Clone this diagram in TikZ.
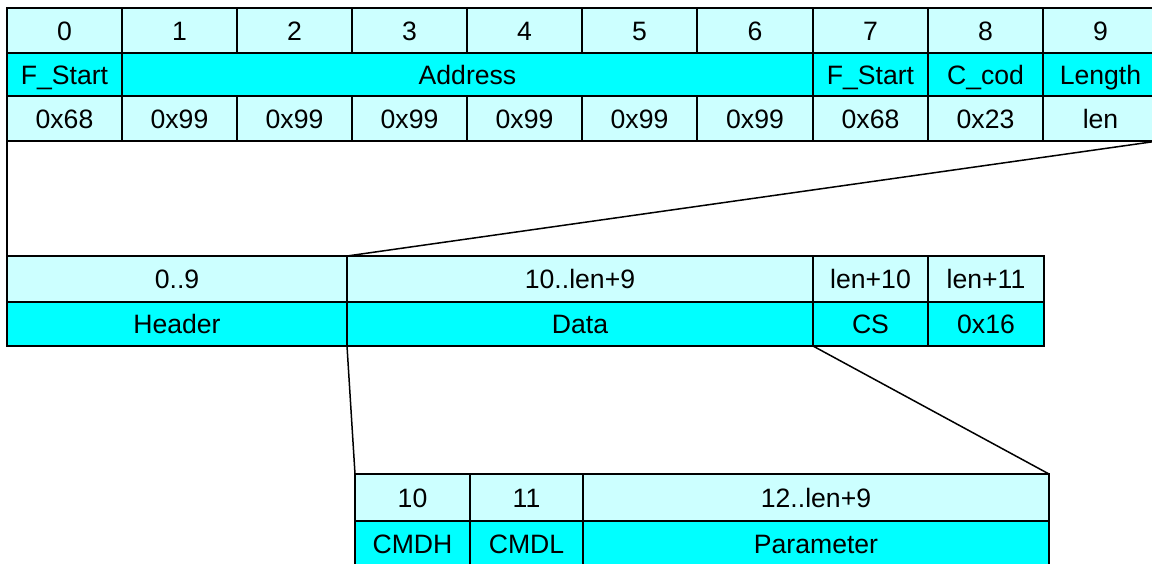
\documentclass[tikz,border=0pt]{standalone}
\usepackage{fontspec}
\setmainfont{Liberation Sans}
\definecolor{lightc}{HTML}{CCFFFF}
\definecolor{darkc}{HTML}{00FFFF}
\tikzset{
  cellst/.style={draw=black, line width=0.9pt, rectangle, inner sep=0pt, outer sep=0pt,
    font=\fontsize{13.3}{15}\selectfont, text=black, text height=9.5pt, text depth=0pt},
  linkst/.style={draw=black, line width=0.75pt}
}
\newcommand\cellbox[7]{\node[cellst, fill=#6, minimum width={(#4-#2)*0.5pt}, minimum height={(#5-#3)*0.5pt}] (#1) at ({(#2+#4)/2},{(#3+#5)/2}) {#7};}
\begin{document}
\begin{tikzpicture}[x=0.5pt,y=-0.5pt]
\useasboundingbox (0,0) rectangle (1152,563);
\clip (0,0) rectangle (1152,563);
\fill[white] (0,0) rectangle (1152,563);
% top table, row 1
\cellbox{a0}{7}{8}{122}{53}{lightc}{0}
\cellbox{a1}{122}{8}{237}{53}{lightc}{1}
\cellbox{a2}{237}{8}{352}{53}{lightc}{2}
\cellbox{a3}{352}{8}{467}{53}{lightc}{3}
\cellbox{a4}{467}{8}{582}{53}{lightc}{4}
\cellbox{a5}{582}{8}{697}{53}{lightc}{5}
\cellbox{a6}{697}{8}{813}{53}{lightc}{6}
\cellbox{a7}{813}{8}{928}{53}{lightc}{7}
\cellbox{a8}{928}{8}{1043}{53}{lightc}{8}
\cellbox{a9}{1043}{8}{1158}{53}{lightc}{9}
% row 2
\cellbox{b0}{7}{53}{122}{96}{darkc}{F\_Start}
\cellbox{b1}{122}{53}{813}{96}{darkc}{Address}
\cellbox{b7}{813}{53}{928}{96}{darkc}{F\_Start}
\cellbox{b8}{928}{53}{1043}{96}{darkc}{C\_cod}
\cellbox{b9}{1043}{53}{1158}{96}{darkc}{Length}
% row 3
\cellbox{c0}{7}{96}{122}{141}{lightc}{0x68}
\cellbox{c1}{122}{96}{237}{141}{lightc}{0x99}
\cellbox{c2}{237}{96}{352}{141}{lightc}{0x99}
\cellbox{c3}{352}{96}{467}{141}{lightc}{0x99}
\cellbox{c4}{467}{96}{582}{141}{lightc}{0x99}
\cellbox{c5}{582}{96}{697}{141}{lightc}{0x99}
\cellbox{c6}{697}{96}{813}{141}{lightc}{0x99}
\cellbox{c7}{813}{96}{928}{141}{lightc}{0x68}
\cellbox{c8}{928}{96}{1043}{141}{lightc}{0x23}
\cellbox{c9}{1043}{96}{1158}{141}{lightc}{len}
% middle table
\cellbox{m0}{7}{256}{347}{302}{lightc}{0..9}
\cellbox{m1}{347}{256}{813}{302}{lightc}{10..len+9}
\cellbox{m2}{813}{256}{928}{302}{lightc}{len+10}
\cellbox{m3}{928}{256}{1044}{302}{lightc}{len+11}
\cellbox{n0}{7}{302}{347}{346}{darkc}{Header}
\cellbox{n1}{347}{302}{813}{346}{darkc}{Data}
\cellbox{n2}{813}{302}{928}{346}{darkc}{CS}
\cellbox{n3}{928}{302}{1044}{346}{darkc}{0x16}
% bottom table
\cellbox{p0}{355}{474}{470}{521}{lightc}{10}
\cellbox{p1}{470}{474}{583}{521}{lightc}{11}
\cellbox{p2}{583}{474}{1049}{521}{lightc}{12..len+9}
\cellbox{q0}{355}{521}{470}{567}{darkc}{CMDH}
\cellbox{q1}{470}{521}{583}{567}{darkc}{CMDL}
\cellbox{q2}{583}{521}{1049}{567}{darkc}{Parameter}
% connectors
\draw[linkst] (c0.south west) -- (m0.north west);
\draw[linkst] (c9.south east) -- (m0.north east);
\draw[linkst] (n0.south east) -- (p0.north west);
\draw[linkst] (n1.south east) -- (p2.north east);
\end{tikzpicture}
\end{document}
